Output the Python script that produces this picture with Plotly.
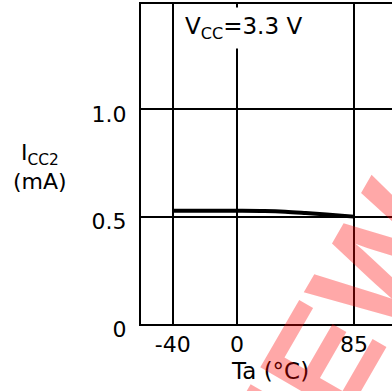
import numpy as np
import plotly.graph_objects as go

# ---- data ----
temp_c = [-40, -20, 0, 20, 35, 50, 65, 85]
icc2_ma = [0.527, 0.527, 0.527, 0.526, 0.523, 0.517, 0.510, 0.500]
x_tick_temps = [-40, 0, 85]
x_tick_labels = ["-40", "0", "85"]
y_tick_vals = [0, 0.5, 1.0]
y_tick_labels = ["0", "0.5", "1.0"]

# ---- non-linear (schematic) temperature scale ----
W, H = 392, 391
L, R, T, B = 141, 0, 4, 67
AXIS_KNOTS_T = [-40, 0, 85]
AXIS_KNOTS_U = [31.7, 96.0, 213.0]   # axis units along the x axis
X_RANGE = [0, 251]


def tscale(t):
    return np.interp(np.asarray(t, dtype=float), AXIS_KNOTS_T, AXIS_KNOTS_U)


def px_x(p):  # figure pixel -> paper x
    return (p - L) / (W - L - R)


def px_y(p):  # figure pixel -> paper y
    return (H - B - p) / (H - T - B)


FONT = "DejaVu Sans"
FS = 22
fig = go.Figure()
fig.add_trace(go.Scatter(
    x=tscale(temp_c), y=icc2_ma, mode="lines",
    line=dict(color="black", width=4, shape="spline"),
    hoverinfo="skip", showlegend=False,
))

fig.update_layout(
    width=W, height=H,
    margin=dict(l=L, r=R, t=T, b=B, pad=0, autoexpand=False),
    paper_bgcolor="white", plot_bgcolor="white",
    showlegend=False,
    font=dict(family=FONT, size=FS, color="black"),
    xaxis=dict(
        range=X_RANGE, tickmode="array", tickvals=list(tscale(x_tick_temps)),
        ticktext=x_tick_labels, showgrid=True, gridcolor="black", gridwidth=2,
        showline=True, linecolor="black", linewidth=2, mirror=True,
        ticks="", zeroline=False, ticklabelstandoff=0, automargin=False,
        tickfont=dict(family=FONT, size=FS),
    ),
    yaxis=dict(
        range=[0, 1.49], tickmode="array", tickvals=y_tick_vals,
        ticktext=y_tick_labels, showgrid=True, gridcolor="black", gridwidth=2,
        showline=True, linecolor="black", linewidth=2, mirror=False,
        ticks="", zeroline=False, ticklabelstandoff=8, ticklabelshift=5,
        automargin=False, tickfont=dict(family=FONT, size=FS),
    ),
)

# condition label with white box
fig.add_annotation(
    xref="paper", yref="paper", x=px_x(243), y=px_y(28),
    text="V<sub>CC</sub>=3.3 V", showarrow=False,
    font=dict(family=FONT, size=FS + 1, color="black"),
    bgcolor="white", borderpad=5, xanchor="center", yanchor="middle",
)
# y axis title
fig.add_annotation(
    xref="paper", yref="paper", x=px_x(40), y=px_y(167),
    text="I<sub>CC2</sub><br>(mA)", showarrow=False,
    font=dict(family=FONT, size=FS, color="black"),
    xanchor="center", yanchor="middle", align="center",
)
# x axis title
fig.add_annotation(
    xref="paper", yref="paper", x=px_x(270), y=px_y(371),
    text="Ta (°C)", showarrow=False,
    font=dict(family=FONT, size=FS + 1, color="black"),
    xanchor="center", yanchor="middle",
)
# watermark (only its end is inside the crop)
fig.add_annotation(
    xref="paper", yref="paper", x=px_x(248), y=px_y(487),
    text="<b>PREVIEW</b>", showarrow=False, textangle=-60,
    font=dict(family="Liberation Sans", size=144, color="rgba(255,0,0,0.34)"),
    xanchor="center", yanchor="middle",
)

fig.write_html("out.html", config={"displayModeBar": False},
               post_script="document.body.style.margin='0';")
